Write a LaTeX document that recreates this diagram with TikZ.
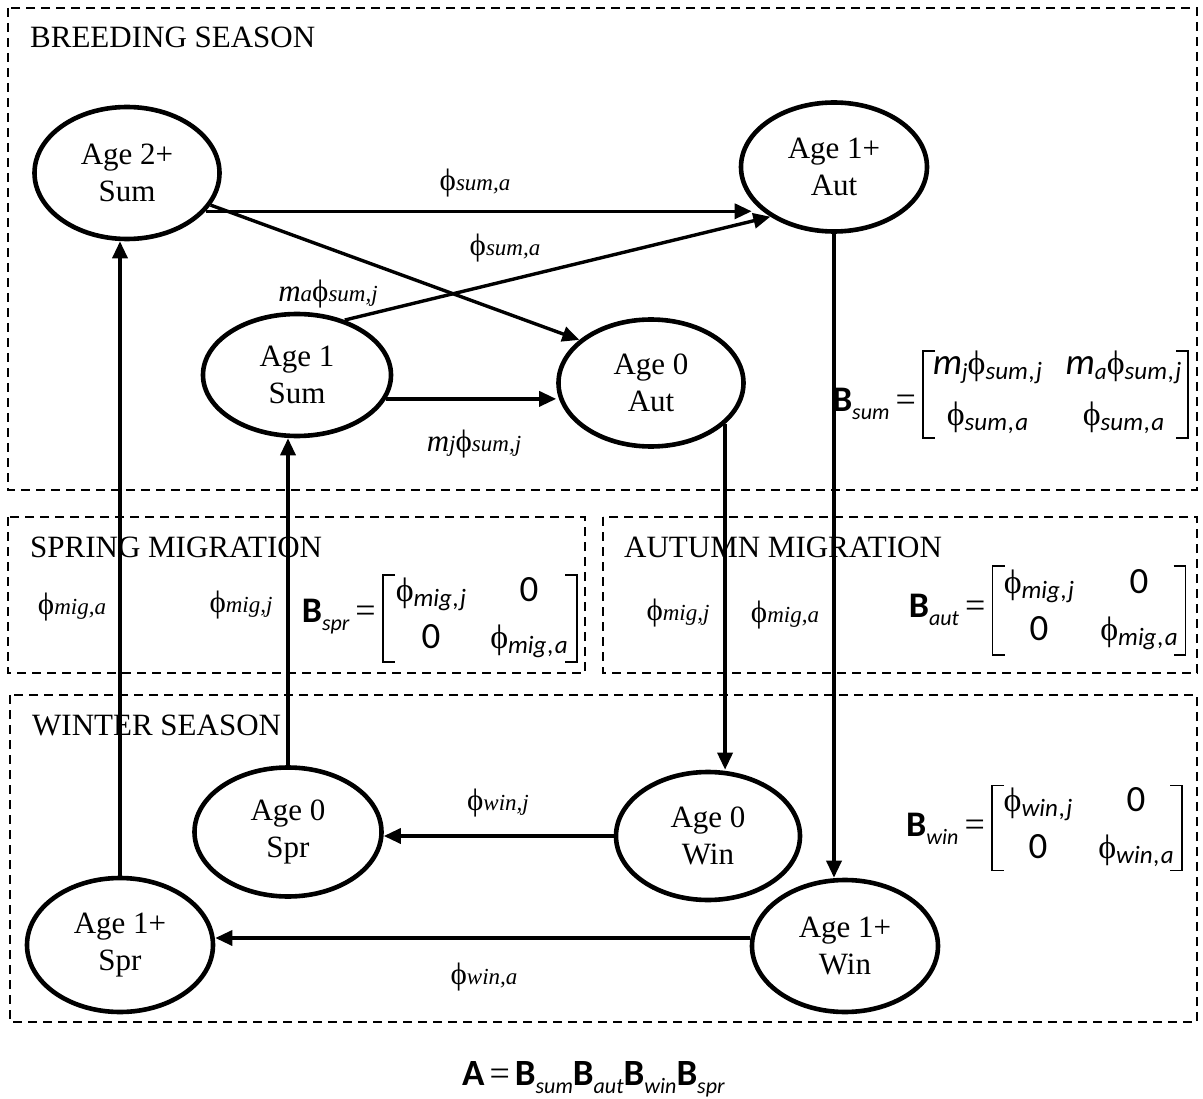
\documentclass[tikz,border=0pt]{standalone}
\usepackage{fontspec}
\setmainfont{Liberation Serif}
\newfontfamily\cbfont{Carlito}
\usetikzlibrary{shapes.geometric,arrows.meta}
\newcommand\phig{ϕ}
\newcommand\lph[1]{\phig{\fontsize{23}{23}\selectfont\itshape #1}}
\newcommand\lm[1]{\textit{m}{\fontsize{23}{23}\selectfont\itshape #1}}
\newcommand\mph[1]{{\rmfamily\fontsize{34}{34}\selectfont\phig}\raisebox{-5pt}{\fontsize{25}{25}\selectfont\itshape #1}}
\newcommand\mmm[1]{\textit{m}\raisebox{-5pt}{\fontsize{23}{23}\selectfont\itshape #1}}
\newcommand\bsub[1]{\textbf{B}\raisebox{-8pt}{\fontsize{22}{22}\selectfont\itshape #1}}
\newcommand\eqs{{\rmfamily\fontsize{36}{36}\selectfont =}}
\newcommand\brackets[1]{%
  \draw[brk] ([xshift=12pt]#1.north west) -- (#1.north west) -- (#1.south west) -- ([xshift=12pt]#1.south west);
  \draw[brk] ([xshift=-12pt]#1.north east) -- (#1.north east) -- (#1.south east) -- ([xshift=-12pt]#1.south east);}
\tikzset{
  state/.style={ellipse, draw, line width=4.6pt, inner sep=0pt, align=center, font=\fontsize{31}{37}\selectfont},
  lab/.style={inner sep=0pt, font=\fontsize{31}{31}\selectfont},
  title/.style={anchor=base west, inner sep=0pt, font=\fontsize{31}{31}\selectfont},
  zone/.style={draw, line width=2pt, dash pattern=on 9pt off 6pt},
  flow/.style={line width=3.4pt, -{Triangle[length=17pt,width=15pt]}},
  ment/.style={anchor=base, inner sep=0pt, font=\cbfont\fontsize{37}{37}\selectfont},
  mbox/.style={inner sep=0pt, outer sep=0pt},
  brk/.style={line width=1.6pt},
  mlab/.style={anchor=base east, inner sep=0pt, font=\cbfont\fontsize{36}{36}\selectfont},
}
\begin{document}
\begin{tikzpicture}[x=1pt,y=-1pt]
\useasboundingbox (0,0) rectangle (1203,1099);
% zones
\draw[zone] (8,8) rectangle (1197,490);
\draw[zone] (8,517) rectangle (585,673);
\draw[zone] (603,517) rectangle (1197,673);
\draw[zone] (10,695) rectangle (1197,1022);
\node[title] (t1) at (30,48) {BREEDING SEASON};
\node[title] (t2) at (30,557) {SPRING MIGRATION};
\node[title] (t3) at (624,557) {AUTUMN MIGRATION};
\node[title] (t4) at (32,735) {WINTER SEASON};
% states
\node[state, minimum width=185pt, minimum height=132pt] (A2S) at (127,173) {Age 2+\\Sum};
\node[state, minimum width=186pt, minimum height=129pt] (A1A) at (834,167) {Age 1+\\Aut};
\node[state, minimum width=188pt, minimum height=122pt] (A1S) at (297,375) {Age 1\\Sum};
\node[state, minimum width=185pt, minimum height=127pt] (A0A) at (651,383) {Age 0\\Aut};
\node[state, minimum width=187pt, minimum height=129pt] (A0P) at (288,832) {Age 0\\Spr};
\node[state, minimum width=184pt, minimum height=128pt] (A0W) at (708,836) {Age 0\\Win};
\node[state, minimum width=186pt, minimum height=134pt] (A1P) at (120,945) {Age 1+\\Spr};
\node[state, minimum width=186pt, minimum height=132pt] (A1W) at (845,946) {Age 1+\\Win};
% labels
\node[lab] (l1) at (475,183) {\lph{sum,a}};
\node[lab] (l2) at (505,248) {\lph{sum,a}};
\node[lab] (l3) at (328,294) {\lm{a}\lph{sum,j}};
\node[lab] (l4) at (474,444) {\lm{j}\lph{sum,j}};
\node[lab] (l5) at (498,803) {\lph{win,j}};
\node[lab] (l6) at (484,977) {\lph{win,a}};
\node[lab] (l7) at (72,607) {\lph{mig,a}};
\node[lab] (l8) at (241,605) {\lph{mig,j}};
\node[lab] (l9) at (678,613) {\lph{mig,j}};
\node[lab] (l10) at (785,615) {\lph{mig,a}};
% matrices
\node[mbox, minimum width=265pt, minimum height=87pt] (Msum) at (1055.5,394.5) {};
\brackets{Msum}
\node[ment] (Msum11) at ([shift={(-68,-20)}]Msum.center) {\mmm{j}\mph{sum\kern1pt,\kern1pt j}};
\node[ment] (Msum12) at ([shift={(68,-20)}]Msum.center) {\mmm{a}\mph{sum\kern1pt,\kern1pt j}};
\node[ment] (Msum21) at ([shift={(-68,31)}]Msum.center) {\mph{sum\kern1pt,\kern1pt a}};
\node[ment] (Msum22) at ([shift={(68,31)}]Msum.center) {\mph{sum\kern1pt,\kern1pt a}};
\node[mlab] (Bsum) at ([shift={(-7,17.5)}]Msum.west) {\bsub{sum}\hspace{6pt}\eqs};

\node[mbox, minimum width=194pt, minimum height=87pt] (Mspr) at (480,618.5) {};
\brackets{Mspr}
\node[ment] (Mspr11) at ([shift={(-49,-17)}]Mspr.center) {\mph{mig\kern1pt,\kern1pt j}};
\node[ment] (Mspr12) at ([shift={(49,-17)}]Mspr.center) {0};
\node[ment] (Mspr21) at ([shift={(-49,30)}]Mspr.center) {0};
\node[ment] (Mspr22) at ([shift={(49,30)}]Mspr.center) {\mph{mig\kern1pt,\kern1pt a}};
\node[mlab] (Bspr) at ([shift={(-7,4)}]Mspr.west) {\bsub{spr}\hspace{6pt}\eqs};

\node[mbox, minimum width=193pt, minimum height=89pt] (Maut) at (1089,610.5) {};
\brackets{Maut}
\node[ment] (Maut11) at ([shift={(-50,-17)}]Maut.center) {\mph{mig\kern1pt,\kern1pt j}};
\node[ment] (Maut12) at ([shift={(50,-17)}]Maut.center) {0};
\node[ment] (Maut21) at ([shift={(-50,30)}]Maut.center) {0};
\node[ment] (Maut22) at ([shift={(50,30)}]Maut.center) {\mph{mig\kern1pt,\kern1pt a}};
\node[mlab] (Baut) at ([shift={(-7,6.5)}]Maut.west) {\bsub{aut}\hspace{6pt}\eqs};

\node[mbox, minimum width=190pt, minimum height=85pt] (Mwin) at (1087,828) {};
\brackets{Mwin}
\node[ment] (Mwin11) at ([shift={(-49,-17)}]Mwin.center) {\mph{win\kern1pt,\kern1pt j}};
\node[ment] (Mwin12) at ([shift={(49,-17)}]Mwin.center) {0};
\node[ment] (Mwin21) at ([shift={(-49,30)}]Mwin.center) {0};
\node[ment] (Mwin22) at ([shift={(49,30)}]Mwin.center) {\mph{win\kern1pt,\kern1pt a}};
\node[mlab] (Bwin) at ([shift={(-7,8)}]Mwin.west) {\bsub{win}\hspace{6pt}\eqs};

\node[anchor=base west, inner sep=0pt, font=\cbfont\fontsize{37}{37}\selectfont] (formula) at (462,1085)
  {\textbf{A}\hspace{5pt}\eqs\hspace{5pt}\bsub{sum}\bsub{aut}\bsub{win}\bsub{spr}};
% flows
\draw[flow] (A2S.-26) -- ([xshift=13pt]A2S.-26 -| A1A.west);
\draw[flow] (A2S.-21) -- (A0A.149);
\draw[flow] (A1S.49) -- (A1A.218);
\draw[flow] (A1S.-15) -- (A1S.-15 -| A0A.west);
\draw[flow] (A0A.-29) -- (A0A.-29 |- A0W.north);
\draw[flow] (A1A.south) -- (A1A.south |- A1W.north);
\draw[flow] (A0W.west) -- (A0W.west -| A0P.east);
\draw[flow] ([yshift=8pt]A1W.west) -- ([yshift=8pt]A1W.west -| A1P.east);
\draw[flow] (A0P.north) -- (A0P.north |- A1S.south);
\draw[flow] (A1P.north) -- (A1P.north |- A2S.south);
\end{tikzpicture}
\end{document}
